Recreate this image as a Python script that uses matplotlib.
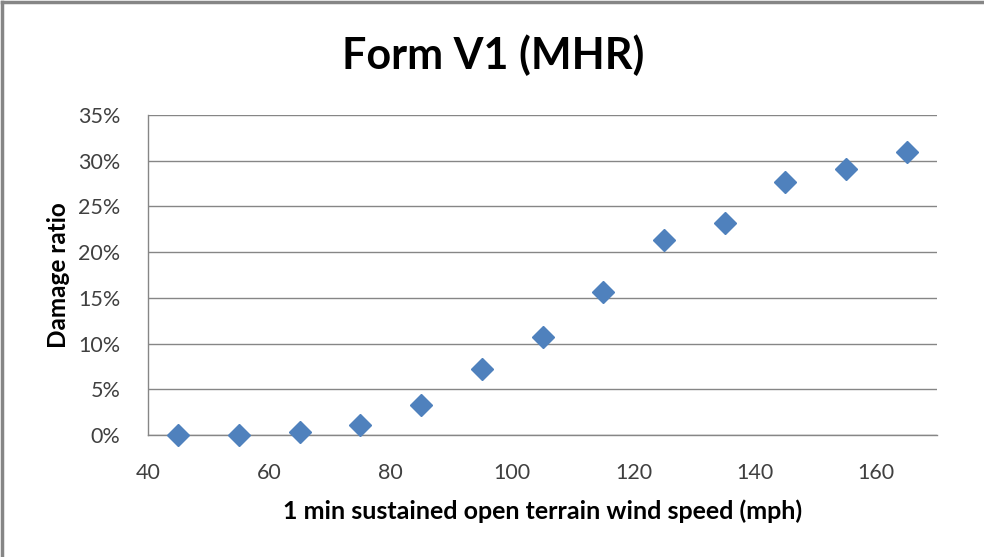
import matplotlib
matplotlib.use("Agg")
import matplotlib.pyplot as plt
from matplotlib.ticker import FuncFormatter
from matplotlib.lines import Line2D

wind_speed = [45, 55, 65, 75, 85, 95, 105, 115, 125, 135, 145, 155, 165]
damage_ratio = [0.0, 0.0, 0.3, 1.1, 3.3, 7.2, 10.7, 15.6, 21.3, 23.2, 27.7, 29.1, 31.0]
x_ticks = [40, 60, 80, 100, 120, 140, 160]
y_ticks = [0, 5, 10, 15, 20, 25, 30, 35]

plt.rcParams['font.family'] = ['Lato', 'DejaVu Sans']

fig = plt.figure(figsize=(9.84, 5.57), dpi=100)
W, H = 984, 557
ax = fig.add_axes([148 / W, 1 - 435 / H, (937 - 148) / W, (435 - 115) / H])

ax.plot(wind_speed, damage_ratio, linestyle='none', marker='D', markersize=11,
        color='#4F81BD', markeredgecolor='#4F81BD', zorder=3, clip_on=False)

ax.set_xlim(40, 170)
ax.set_ylim(0, 35)
ax.set_xticks(x_ticks)
ax.set_yticks(y_ticks)
ax.yaxis.set_major_formatter(FuncFormatter(lambda v, p: f"{int(v)}%"))
ax.grid(axis='y', color='#868686', linewidth=1)
ax.set_axisbelow(True)
for s in ['top', 'right']:
    ax.spines[s].set_visible(False)
for s in ['left', 'bottom']:
    ax.spines[s].set_color('#868686')
    ax.spines[s].set_linewidth(1)
ax.tick_params(axis='both', length=0, labelsize=15.5, colors='#404040')
ax.tick_params(axis='y', pad=20)
ax.tick_params(axis='x', pad=20)

ax.set_xlabel('1 min sustained open terrain wind speed (mph)', fontsize=18,
              fontweight='bold', color='#000000', labelpad=12)
ax.set_ylabel('Damage ratio', fontsize=17.5, fontweight='bold', color='#000000', labelpad=6)

fig.text(493 / W, 1 - 55 / H, 'Form V1 (MHR)', ha='center', va='center',
         fontsize=31, fontweight='bold', color='#000000')

# chart border (left and top edges)
fig.add_artist(Line2D([2 / W, 2 / W], [0, 1 - 2 / H], transform=fig.transFigure,
                      color='#868686', linewidth=2.5))
fig.add_artist(Line2D([2 / W, 1], [1 - 2 / H, 1 - 2 / H], transform=fig.transFigure,
                      color='#868686', linewidth=2.5))

fig.savefig('out.png', dpi=100)
